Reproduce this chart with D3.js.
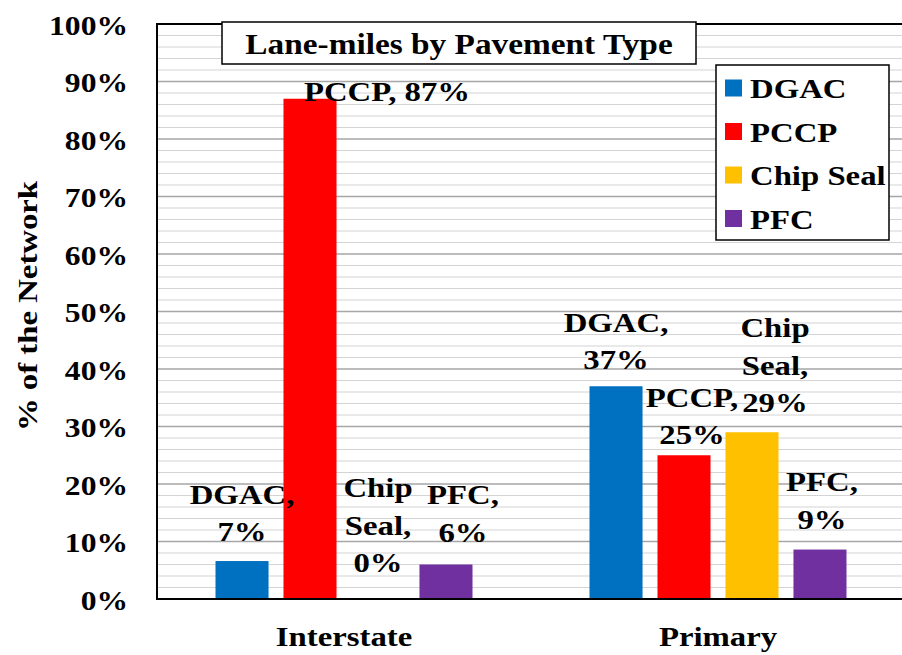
<!DOCTYPE html>
<html><head><meta charset="utf-8">
<script src="https://cdn.jsdelivr.net/npm/d3@7"></script>
<style>
html,body{margin:0;padding:0;background:#fff;}
text{font-family:"Liberation Serif","Times New Roman",serif;font-weight:bold;fill:#000;}
</style></head>
<body><svg id="c" width="902" height="655"></svg>
<script>
// ---- data ----
const categories = ["Interstate", "Primary"];
const series = ["DGAC", "PCCP", "Chip Seal", "PFC"];
const interstateValues = [6.6, 87, 0, 6];
const primaryValues = [37, 25, 29, 8.6];
const yTicks = [0, 10, 20, 30, 40, 50, 60, 70, 80, 90, 100];
const colors = ["#0070C0", "#FF0000", "#FFC000", "#7030A0"];
const title = "Lane-miles by Pavement Type";
const yTitle = "% of the Network";

const values = {Interstate: interstateValues, Primary: primaryValues};

// ---- layout ----
const SX = 1.17;
const L = 157, R = 905, T = 24, B = 599;
const svg = d3.select("#c");
const y = d3.scaleLinear().domain([0, 100]).range([B, T]);
const x0 = d3.scaleBand().domain(categories).range([L, R]).padding(0);
const groupW = 257;
const x1 = d3.scaleBand().domain(series).range([0, groupW]).paddingInner(0.22).paddingOuter(0);

function stext(g, str, x, yy, size, anchor, extra) {
  return g.append("text")
    .attr("transform", `translate(${x},${yy}) ${extra || ""} scale(${SX},1)`)
    .attr("text-anchor", anchor || "middle")
    .style("font-size", size + "px")
    .text(str);
}

// gridlines
const minor = d3.range(0, 101, 2).filter(v => v % 10 !== 0);
svg.append("g").selectAll("line").data(minor).join("line")
  .attr("x1", L).attr("x2", R).attr("y1", d => y(d)).attr("y2", d => y(d))
  .attr("stroke", "#d4d4d4").attr("stroke-width", 1.2);
svg.append("g").selectAll("line").data(yTicks.filter(v => v > 0 && v < 100)).join("line")
  .attr("x1", L).attr("x2", R).attr("y1", d => y(d)).attr("y2", d => y(d))
  .attr("stroke", "#a6a6a6").attr("stroke-width", 1.4);

// bars
categories.forEach(cat => {
  const gx = x0(cat) + x0.bandwidth() / 2 - groupW / 2;
  svg.append("g").selectAll("rect").data(series).join("rect")
    .attr("x", s => gx + x1(s))
    .attr("width", x1.bandwidth())
    .attr("y", (s, i) => y(values[cat][i]))
    .attr("height", (s, i) => B - y(values[cat][i]))
    .attr("fill", (s, i) => colors[i]);
});

// plot border (left, top, bottom)
svg.append("path").attr("d", `M${R},${T}H${L}V${B}H${R}`)
  .attr("fill", "none").attr("stroke", "#000").attr("stroke-width", 2);

// y axis tick labels
const yAxis = d3.axisLeft(y).tickValues(yTicks).tickFormat(d => d + "%").tickSize(0).tickPadding(0);
const ya = svg.append("g").attr("transform", "translate(128,0)").call(yAxis);
ya.select(".domain").remove();
ya.attr("font-family", null).attr("font-size", null);
ya.selectAll("text").each(function(d) {
  d3.select(this).attr("x", null).attr("dy", null).attr("text-anchor", "end")
   .attr("transform", `translate(0,10) scale(${SX},1)`)
   .style("font-size", "27px").attr("fill", "#000");
});

// x axis labels
const xAxis = d3.axisBottom(x0).tickSize(0).tickPadding(0);
const xa = svg.append("g").attr("transform", `translate(0,${B})`).call(xAxis);
xa.select(".domain").remove();
xa.attr("font-family", null).attr("font-size", null);
xa.selectAll("text").each(function(d) {
  d3.select(this).attr("y", null).attr("dy", null)
    .attr("transform", `translate(0,47) scale(${SX},1)`)
    .style("font-size", "28px").attr("fill", "#000");
});

// y title
stext(svg, yTitle, 37, 306, 28, "middle", "rotate(-90)");

// data labels
const labelLayout = {
  Interstate: [
    {lines: n => ["DGAC,", n], dx: 0, gap: 20},
    {lines: n => ["PCCP, " + n], dx: 77, gap: -2},
    {lines: n => ["Chip", "Seal,", n], dx: 0, gap: 27},
    {lines: n => ["PFC,", n], dx: 17, gap: 23}
  ],
  Primary: [
    {lines: n => ["DGAC,", n], dx: 0, gap: 17},
    {lines: n => ["PCCP,", n], dx: 8, gap: 11},
    {lines: n => ["Chip", "Seal,", n], dx: 23, gap: 20},
    {lines: n => ["PFC,", n], dx: 2, gap: 21}
  ]
};
const lineH = 37.5;
const lg = svg.append("g");
categories.forEach(cat => {
  const gx = x0(cat) + x0.bandwidth() / 2 - groupW / 2;
  series.forEach((s, i) => {
    const v = values[cat][i];
    const lay = labelLayout[cat][i];
    const lines = lay.lines(Math.round(v) + "%");
    const cx = gx + x1(s) + x1.bandwidth() / 2 + lay.dx;
    const baseY = y(v) - lay.gap;
    lines.forEach((ln, k) => {
      stext(lg, ln, cx, baseY - (lines.length - 1 - k) * lineH, 28, "middle");
    });
  });
});

// title box
const tg = svg.append("g");
tg.append("rect").attr("x", 222).attr("y", 22).attr("width", 474).attr("height", 42)
  .attr("fill", "#fff").attr("stroke", "#000").attr("stroke-width", 1.5);
stext(tg, title, 459, 54, 28.5, "middle");

// legend
const leg = svg.append("g");
leg.append("rect").attr("x", 716).attr("y", 65).attr("width", 173).attr("height", 175)
  .attr("fill", "#fff").attr("stroke", "#000").attr("stroke-width", 1.5);
series.forEach((s, i) => {
  const cy = 88 + i * 43.5;
  leg.append("rect").attr("x", 725).attr("y", cy - 8.5).attr("width", 17).attr("height", 17).attr("fill", colors[i]);
  stext(leg, s, 750, cy + 10, 28, "start");
});
</script></body></html>
